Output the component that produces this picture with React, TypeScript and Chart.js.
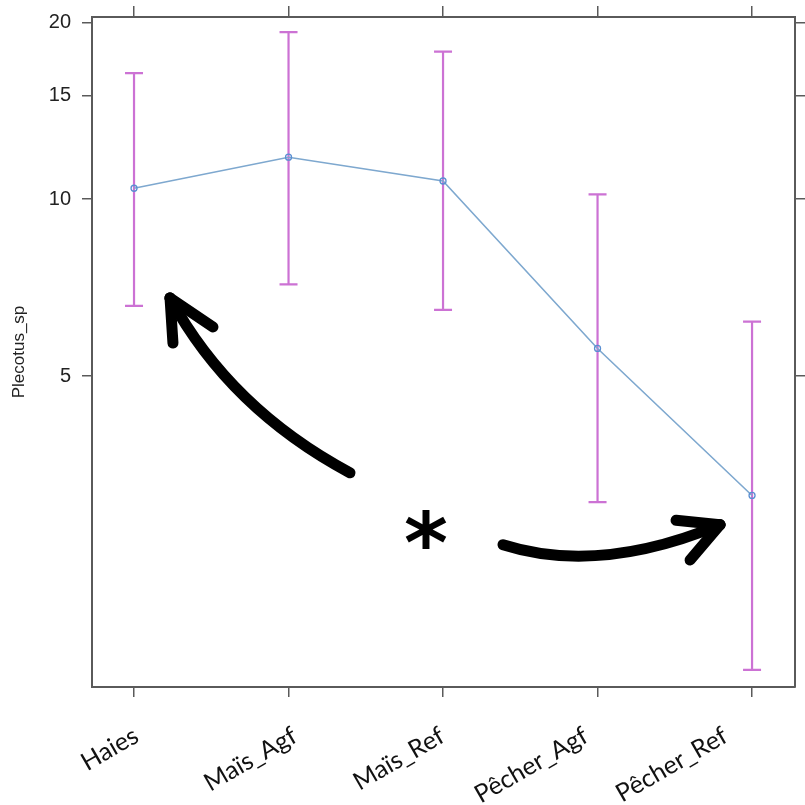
import React, { useEffect, useRef } from "react";
import { Chart, registerables } from "chart.js";

Chart.register(...registerables);

// ---- data ----
const categories = ["Haies", "Maïs_Agf", "Maïs_Ref", "Pêcher_Agf", "Pêcher_Ref"];
const means = [10.44, 11.79, 10.74, 5.57, 3.13];
const lowerCI = [6.58, 7.16, 6.48, 3.05, 1.58];
const upperCI = [16.39, 19.25, 17.84, 10.19, 6.19];
const yTickValues = [5, 10, 15, 20];
const yTitle = "Plecotus_sp";

// annotation (hand-drawn arrows and asterisk) in data coordinates [x index, y value]
const leftArrowCurve = [[1.398, 3.42], [0.621, 4.4], [0.233, 6.79]];
const leftArrowBarbs = [[0.252, 5.69], [0.511, 6.06]];
const rightArrowCurve = [[2.388, 2.58], [3.006, 2.29], [3.793, 2.79]];
const rightArrowBarbs = [[3.508, 2.84], [3.599, 2.43]];
const asteriskPos = [1.89, 2.73];
const asteriskText = "*";

// layout / style constants
const X_MIN = -0.272;
const X_MAX = 4.278;
const Y_MIN = 1.477;
const Y_MAX = 20.43;
const LABEL_SHIFT = [-4, 0, -7, -18, -33]; // horizontal nudge of each rotated category label (px)

const AXIS_COLOR = "#5a5a5a";
const BAR_COLOR = "#cc72d4";

const errorBarPlugin = {
  id: "errorBars",
  beforeDatasetsDraw(chart: any) {
    const { ctx, scales } = chart;
    const xs = scales.x;
    const ys = scales.y;
    ctx.save();
    ctx.strokeStyle = BAR_COLOR;
    ctx.lineWidth = 2.2;
    categories.forEach((_, i) => {
      const px = xs.getPixelForValue(i);
      const yl = ys.getPixelForValue(lowerCI[i]);
      const yu = ys.getPixelForValue(upperCI[i]);
      ctx.beginPath();
      ctx.moveTo(px, yl);
      ctx.lineTo(px, yu);
      ctx.moveTo(px - 9, yl);
      ctx.lineTo(px + 9, yl);
      ctx.moveTo(px - 9, yu);
      ctx.lineTo(px + 9, yu);
      ctx.stroke();
    });
    ctx.restore();
  },
};

const categoryLabelPlugin = {
  id: "categoryLabels",
  afterDraw(chart: any) {
    const { ctx, scales } = chart;
    const xs = scales.x;
    ctx.save();
    ctx.fillStyle = "#111";
    ctx.font = "25px Lato";
    ctx.textAlign = "right";
    ctx.textBaseline = "top";
    categories.forEach((c, i) => {
      const px = xs.getPixelForValue(i) + LABEL_SHIFT[i];
      const py = xs.top + 10 + 26;
      ctx.save();
      ctx.translate(px, py);
      ctx.rotate(-Math.PI / 6);
      ctx.fillText(c, 0, 0);
      ctx.restore();
    });
    ctx.restore();
  },
};

const annotationPlugin = {
  id: "handAnnotations",
  afterDatasetsDraw(chart: any) {
    const { ctx, scales } = chart;
    const xs = scales.x;
    const ys = scales.y;
    const P = (p: number[]) => [xs.getPixelForValue(p[0]), ys.getPixelForValue(p[1])];
    ctx.save();
    ctx.strokeStyle = "#000";
    ctx.lineWidth = 11;
    ctx.lineCap = "round";
    ctx.lineJoin = "round";
    const drawArrow = (curve: number[][], barbs: number[][]) => {
      const [a, c, b] = curve.map(P);
      ctx.beginPath();
      ctx.moveTo(a[0], a[1]);
      ctx.quadraticCurveTo(c[0], c[1], b[0], b[1]);
      ctx.stroke();
      barbs.map(P).forEach((q) => {
        ctx.beginPath();
        ctx.moveTo(b[0], b[1]);
        ctx.lineTo(q[0], q[1]);
        ctx.stroke();
      });
    };
    drawArrow(leftArrowCurve, leftArrowBarbs);
    drawArrow(rightArrowCurve, rightArrowBarbs);
    const s = P(asteriskPos);
    ctx.fillStyle = "#000";
    ctx.font = "bold 84px 'DejaVu Sans'";
    ctx.textAlign = "center";
    ctx.textBaseline = "middle";
    ctx.fillText(asteriskText, s[0], s[1] + 20);
    ctx.restore();
  },
};

export default function App() {
  const ref = useRef<HTMLCanvasElement>(null);
  useEffect(() => {
    if (!ref.current) return;
    const catTicks = (scale: any) => {
      scale.ticks = categories.map((_, i) => ({ value: i }));
    };
    const yTicks = (scale: any) => {
      scale.ticks = yTickValues.map((v) => ({ value: v }));
    };
    const noPad = (s: any) => {
      s.paddingTop = 0;
      s.paddingBottom = 0;
      s.paddingLeft = 0;
      s.paddingRight = 0;
    };
    const chart = new Chart(ref.current, {
      type: "line",
      data: {
        datasets: [
          {
            data: categories.map((_, i) => ({ x: i, y: means[i] })),
            borderColor: "#7ea8cf",
            borderWidth: 1.6,
            pointRadius: 3,
            pointBorderWidth: 1.3,
            pointBorderColor: "#5a8fd2",
            pointBackgroundColor: "rgba(255,255,255,0)",
            tension: 0,
          },
        ],
      },
      options: {
        responsive: false,
        animation: false,
        layout: { padding: 0 },
        plugins: { legend: { display: false }, tooltip: { enabled: false } },
        scales: {
          x: {
            type: "linear",
            position: "bottom",
            min: X_MIN,
            max: X_MAX,
            afterBuildTicks: catTicks,
            afterFit: (s: any) => {
              s.height = 118;
              noPad(s);
            },
            ticks: { display: false },
            grid: { drawOnChartArea: false, drawTicks: true, tickLength: 10, color: AXIS_COLOR, lineWidth: 1.5 },
            border: { display: true, color: AXIS_COLOR, width: 2 },
          },
          x2: {
            type: "linear",
            position: "top",
            min: X_MIN,
            max: X_MAX,
            afterBuildTicks: catTicks,
            afterFit: (s: any) => {
              s.height = 17;
              noPad(s);
            },
            ticks: { display: false },
            grid: { drawOnChartArea: false, drawTicks: true, tickLength: 11, color: AXIS_COLOR, lineWidth: 1.5 },
            border: { display: true, color: AXIS_COLOR, width: 2 },
          },
          y: {
            type: "logarithmic",
            position: "left",
            min: Y_MIN,
            max: Y_MAX,
            afterBuildTicks: yTicks,
            afterFit: (s: any) => {
              s.width = 92;
              noPad(s);
            },
            ticks: {
              callback: (v: any) => String(v),
              padding: 11,
              color: "#222",
              font: { family: "Liberation Sans", size: 20 },
            },
            title: {
              display: true,
              text: yTitle,
              color: "#222",
              font: { family: "Liberation Sans", size: 17 },
              padding: { top: 9, bottom: 0 },
            },
            grid: { drawOnChartArea: false, drawTicks: true, tickLength: 10, color: AXIS_COLOR, lineWidth: 1.5 },
            border: { display: true, color: AXIS_COLOR, width: 2 },
          },
          y2: {
            type: "logarithmic",
            position: "right",
            min: Y_MIN,
            max: Y_MAX,
            afterBuildTicks: yTicks,
            afterFit: (s: any) => {
              s.width = 10;
              noPad(s);
            },
            ticks: { display: false },
            grid: { drawOnChartArea: false, drawTicks: true, tickLength: 10, color: AXIS_COLOR, lineWidth: 1.5 },
            border: { display: true, color: AXIS_COLOR, width: 2 },
          },
        },
      },
      plugins: [errorBarPlugin, annotationPlugin, categoryLabelPlugin],
    } as any);
    return () => chart.destroy();
  }, []);
  return (
    <div style={{ position: "fixed", left: 0, top: 0, width: 805, height: 805, background: "#fff" }}>
      <canvas ref={ref} width={805} height={805} style={{ display: "block" }} />
    </div>
  );
}
